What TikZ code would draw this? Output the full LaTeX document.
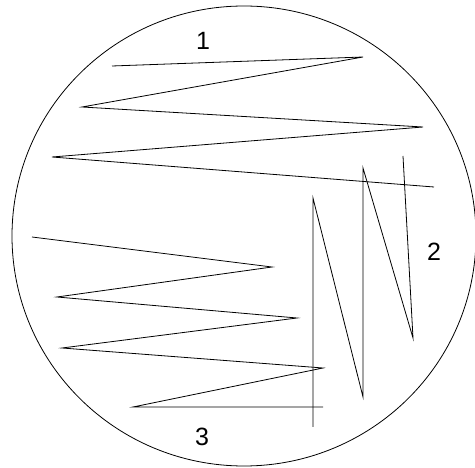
\documentclass[tikz,border=0pt]{standalone}
\usepackage{fontspec}
\setmainfont{Liberation Sans}
\begin{document}
\begin{tikzpicture}[x=1pt, y=-1pt, line join=miter]
  % Define styles
  \tikzstyle{streak}=[draw=black, line width=0.8pt]
  \tikzstyle{zone}=[font=\fontsize{25}{25}\selectfont, inner sep=0pt]
  \useasboundingbox (0,0) rectangle (475,468);

  % Plate
  \draw[line width=0.8pt] (244,236) ellipse [x radius=232, y radius=230];

  % Zone 1
  \draw[streak] (112,66) -- (363,57) -- (82,107) -- (423,127) -- (52,157) -- (434,187);

  % Zone 2
  \draw[streak] (403,156) -- (413,338) -- (363,168) -- (363,397) -- (313,198) -- (313,427);

  % Zone 3
  \draw[streak] (32,237) -- (272,267) -- (57,297) -- (297,318) -- (62,348) -- (323,368) -- (133,407) -- (323,407);

  % Labels
  \node[zone] (one) at (203,41) {1};
  \node[zone] (two) at (434,252) {2};
  \node[zone] (three) at (202,437) {3};
\end{tikzpicture}
\end{document}
